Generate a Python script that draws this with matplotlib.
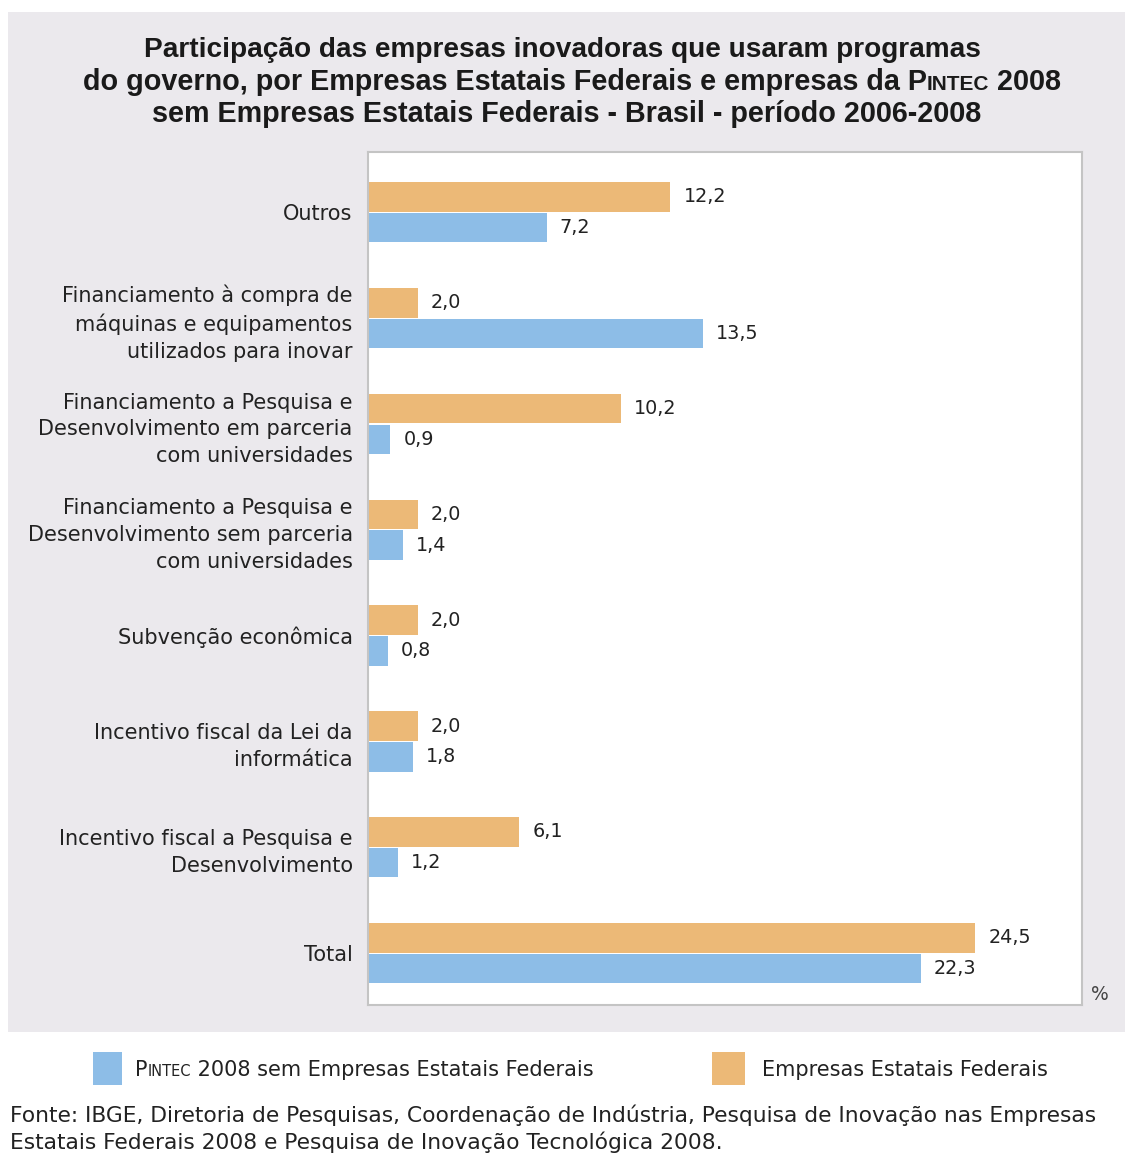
import matplotlib
matplotlib.use("Agg")
import matplotlib.pyplot as plt
import matplotlib.patches as patches
import numpy as np
from matplotlib import font_manager

# data, top to bottom
categories = [
    "Outros",
    "Financiamento à compra de\nmáquinas e equipamentos\nutilizados para inovar",
    "Financiamento a Pesquisa e\nDesenvolvimento em parceria\ncom universidades",
    "Financiamento a Pesquisa e\nDesenvolvimento sem parceria\ncom universidades",
    "Subvenção econômica",
    "Incentivo fiscal da Lei da\ninformática",
    "Incentivo fiscal a Pesquisa e\nDesenvolvimento",
    "Total",
]
estatais = [12.2, 2.0, 10.2, 2.0, 2.0, 2.0, 6.1, 24.5]
pintec = [7.2, 13.5, 0.9, 1.4, 0.8, 1.8, 1.2, 22.3]

ORANGE = "#ecb977"
BLUE = "#8dbde7"
PANEL = "#ebe9ed"
TXT = "#222222"

names = {f.name for f in font_manager.fontManager.ttflist}
title_font = "Liberation Sans Narrow" if "Liberation Sans Narrow" in names else "Liberation Sans"
body_font = "DejaVu Sans"

W, H = 1125, 1160
fig = plt.figure(figsize=(W / 100, H / 100), dpi=100)
fig.patch.set_facecolor("white")

# grey panel behind the chart
fig.patches.append(patches.Rectangle((8 / W, 1 - 1032 / H), 1, (1032 - 12) / H,
                                     transform=fig.transFigure, facecolor=PANEL,
                                     edgecolor="none", zorder=-10))

ax = fig.add_axes([368 / W, 1 - 1005 / H, (1082 - 368) / W, (1005 - 152) / H])
ax.set_facecolor("white")

y = np.arange(len(categories))
h = 0.28
ax.barh(y - 0.145, estatais, height=h, color=ORANGE)
ax.barh(y + 0.145, pintec, height=h, color=BLUE)

for yi, v in zip(y, estatais):
    ax.annotate(f"{v:.1f}".replace(".", ","), (v, yi - 0.145), xytext=(9.5, 0),
                textcoords="offset points", va="center", ha="left",
                fontsize=13.8, color=TXT, family=body_font)
for yi, v in zip(y, pintec):
    ax.annotate(f"{v:.1f}".replace(".", ","), (v, yi + 0.145), xytext=(9.5, 0),
                textcoords="offset points", va="center", ha="left",
                fontsize=13.8, color=TXT, family=body_font)

ax.set_xlim(0, 28.8)
ax.set_ylim(7.49, -0.57)
ax.set_yticks(y)
ax.set_yticklabels(categories, fontsize=15, color=TXT, family=body_font,
                   linespacing=1.42)
ax.tick_params(axis="y", length=0, pad=11)
ax.set_xticks([])
for s in ax.spines.values():
    s.set_color("#c4c4c4")
    s.set_linewidth(1.5)

fig.text(1100 / W, 1 - 995 / H, "%", fontsize=13.5, color="#444444",
         family=body_font, ha="center", va="center")

renderer = fig.canvas.get_renderer()


def rich_line(pieces, x, ybase, ha="center", **kw):
    # pieces: list of (text, fontsize); drawn side by side on one baseline (pixels)
    arts = []
    for txt, fs in pieces:
        t = fig.text(0, 0, txt, fontsize=fs, va="baseline", ha="left", **kw)
        arts.append(t)
    widths = [a.get_window_extent(renderer).width for a in arts]
    total = sum(widths)
    x0 = x - total / 2 if ha == "center" else x
    for a, w in zip(arts, widths):
        a.set_position((x0 / W, 1 - ybase / H))
        x0 += w
    return arts


tkw = dict(family=title_font, fontweight="bold", color="#1a1a1a")
rich_line([("Participação das empresas inovadoras que usaram programas", 20.2)], 562, 57, **tkw)
rich_line([("do governo, por Empresas Estatais Federais e empresas da P", 20.7),
           ("INTEC", 15), (" 2008", 20.7)], 572, 90, **tkw)
rich_line([("sem Empresas Estatais Federais - Brasil - período 2006-2008", 20.7)], 567, 122, **tkw)

# legend
fig.patches.append(patches.Rectangle((93 / W, 1 - 1085 / H), 29 / W, 33 / H,
                                     transform=fig.transFigure, facecolor=BLUE,
                                     edgecolor="none"))
fig.patches.append(patches.Rectangle((712 / W, 1 - 1085 / H), 33 / W, 33 / H,
                                     transform=fig.transFigure, facecolor=ORANGE,
                                     edgecolor="none"))
lkw = dict(family=body_font, color=TXT)
rich_line([("P", 15), ("INTEC", 10.5), (" 2008 sem Empresas Estatais Federais", 15)],
          135, 1076, ha="left", **lkw)
rich_line([("Empresas Estatais Federais", 15)], 762, 1076, ha="left", **lkw)

fig.text(10 / W, 1 - 1115 / H,
         "Fonte: IBGE, Diretoria de Pesquisas, Coordenação de Indústria, Pesquisa de Inovação nas Empresas",
         fontsize=15.7, family=body_font, color=TXT, va="center", ha="left")
fig.text(10 / W, 1 - 1142 / H,
         "Estatais Federais 2008 e Pesquisa de Inovação Tecnológica 2008.",
         fontsize=15.7, family=body_font, color=TXT, va="center", ha="left")

fig.savefig("out.png", dpi=100)
